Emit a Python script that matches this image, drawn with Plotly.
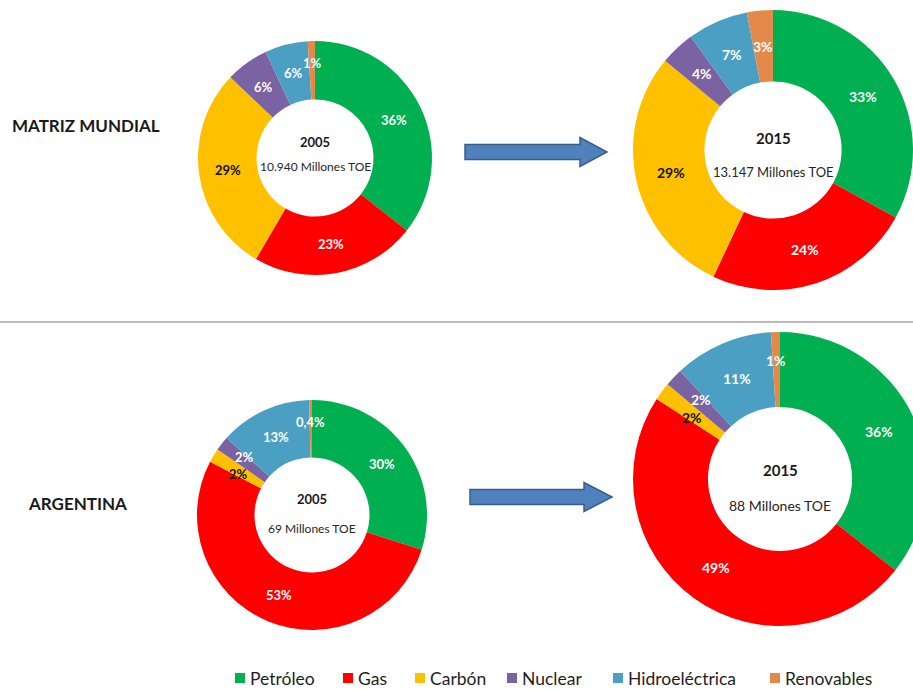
import math
import plotly.graph_objects as go

# Energy sources and their colours
fuentes = ["Petróleo", "Gas", "Carbón", "Nuclear", "Hidroeléctrica", "Renovables"]
colores = ["#00B050", "#FF0000", "#FFC000", "#7B62A3", "#4A9FC2", "#E3894A"]

# Share of each source (%)
mundo_2005 = [36, 23, 29, 6, 6, 1]
mundo_2015 = [33, 24, 29, 4, 7, 3]
arg_2005 = [30, 53, 2, 2, 13, 0.4]
arg_2015 = [36, 49, 2, 2, 11, 1]

anios = ["2005", "2015", "2005", "2015"]
totales = ["10.940 Millones TOE", "13.147 Millones TOE", "69 Millones TOE", "88 Millones TOE"]
filas = ["MATRIZ MUNDIAL", "ARGENTINA"]

W, H = 940, 690
FONT = "Lato, 'Open Sans', sans-serif"


def px(x):
    return x / W


def py(y):
    return 1 - y / H


# Donut placement: centre x, centre y, outer radius, hole, label size,
# year size, total size, year offset, total offset
donas = [
    dict(vals=mundo_2005, cx=315, cy=158, r=117, hole=0.5, ls=13, ys=13, ts=12, ydy=-16, tdy=8),
    dict(vals=mundo_2015, cx=773, cy=150, r=140, hole=0.49, ls=14, ys=15, ts=13, ydy=-12, tdy=22),
    dict(vals=arg_2005, cx=312, cy=515, r=115, hole=0.5, ls=13, ys=13, ts=12, ydy=-16, tdy=13),
    dict(vals=arg_2015, cx=780, cy=479, r=147, hole=0.49, ls=14, ys=15, ts=14, ydy=-9, tdy=27),
]

# Small vertical nudges (px) for labels of very thin slices that would collide
ajuste = {2: -4, 3: 4}

fig = go.Figure()
anotaciones = []

for i, d in enumerate(donas):
    cx, cy, r = d["cx"], d["cy"], d["r"]
    fig.add_trace(go.Pie(
        labels=fuentes,
        values=d["vals"],
        marker=dict(colors=colores, line=dict(width=0)),
        hole=d["hole"],
        sort=False,
        direction="clockwise",
        rotation=0,
        textinfo="none",
        hoverinfo="label+percent",
        showlegend=False,
        domain=dict(x=[px(cx - r), px(cx + r)], y=[py(cy + r), py(cy - r)]),
    ))

    # Percentage labels placed at the middle of the ring
    total = sum(d["vals"])
    acum = 0.0
    rm = r * (1 + d["hole"]) / 2
    for j, v in enumerate(d["vals"]):
        frac = v / total
        mid = (acum + v / 2) / total * 2 * math.pi
        acum += v
        rr = rm * 1.08 if frac < 0.015 else rm
        lx = cx + rr * math.sin(mid)
        ly = cy - rr * math.cos(mid)
        if frac < 0.03 and j in ajuste:
            ly -= ajuste[j]
        texto = f"{v:g}%".replace(".", ",")
        anotaciones.append(dict(
            x=px(lx), y=py(ly), xref="paper", yref="paper",
            text=f"<b>{texto}</b>", showarrow=False,
            xanchor="center", yanchor="middle",
            font=dict(family=FONT, size=d["ls"],
                      color="#111111" if j == 2 else "#FFFFFF"),
        ))

    # Centre texts
    anotaciones.append(dict(
        x=px(cx), y=py(cy + d["ydy"]), xref="paper", yref="paper",
        text=f"<b>{anios[i]}</b>", showarrow=False,
        xanchor="center", yanchor="middle",
        font=dict(family=FONT, size=d["ys"], color="#1a1a1a"),
    ))
    anotaciones.append(dict(
        x=px(cx), y=py(cy + d["tdy"]), xref="paper", yref="paper",
        text=totales[i], showarrow=False,
        xanchor="center", yanchor="middle",
        font=dict(family=FONT, size=d["ts"], color="#262626"),
    ))

# Row titles
for texto, (x0, y0) in zip(filas, [(10, 125), (26, 503)]):
    anotaciones.append(dict(
        x=px(x0), y=py(y0), xref="paper", yref="paper",
        text=f"<b>{texto}</b>", showarrow=False,
        xanchor="left", yanchor="middle",
        font=dict(family=FONT, size=17, color="#1a1a1a"),
    ))

shapes = []

# Separator between the two rows
shapes.append(dict(type="line", xref="paper", yref="paper",
                   x0=0, x1=px(913), y0=py(322), y1=py(322),
                   line=dict(color="#A6A6A6", width=1.5)))


# Block arrows pointing from 2005 to 2015
def flecha(x0, x1, yc, xh, hs, hh):
    pts = [(x0, yc - hs), (xh, yc - hs), (xh, yc - hh), (x1, yc),
           (xh, yc + hh), (xh, yc + hs), (x0, yc + hs)]
    path = "M " + " L ".join(f"{px(a):.5f},{py(b):.5f}" for a, b in pts) + " Z"
    return dict(type="path", xref="paper", yref="paper", path=path,
                fillcolor="#4F81BD", line=dict(color="#385D8A", width=1.5))


shapes.append(flecha(465, 607, 152, 580, 7.5, 14.5))
shapes.append(flecha(470, 612, 497, 584, 7.5, 14.5))

# Legend built from squares and labels
leg_x = [235, 343, 415, 507, 613, 770]
leg_y = 678
for k, nombre in enumerate(fuentes):
    x0 = leg_x[k]
    shapes.append(dict(type="rect", xref="paper", yref="paper",
                       x0=px(x0), x1=px(x0 + 10), y0=py(leg_y + 5), y1=py(leg_y - 5),
                       fillcolor=colores[k], line=dict(width=0)))
    anotaciones.append(dict(
        x=px(x0 + 13), y=py(leg_y), xref="paper", yref="paper",
        text=nombre, showarrow=False, xanchor="left", yanchor="middle",
        font=dict(family=FONT, size=17.5, color="#1f1f1f"),
    ))

fig.update_layout(
    width=W, height=H,
    margin=dict(l=0, r=0, t=0, b=0),
    paper_bgcolor="white", plot_bgcolor="white",
    annotations=anotaciones,
    shapes=shapes,
    showlegend=False,
)

fig.write_html(
    "out.html",
    post_script="document.documentElement.style.overflow='hidden';"
                "document.body.style.overflow='hidden';",
)
